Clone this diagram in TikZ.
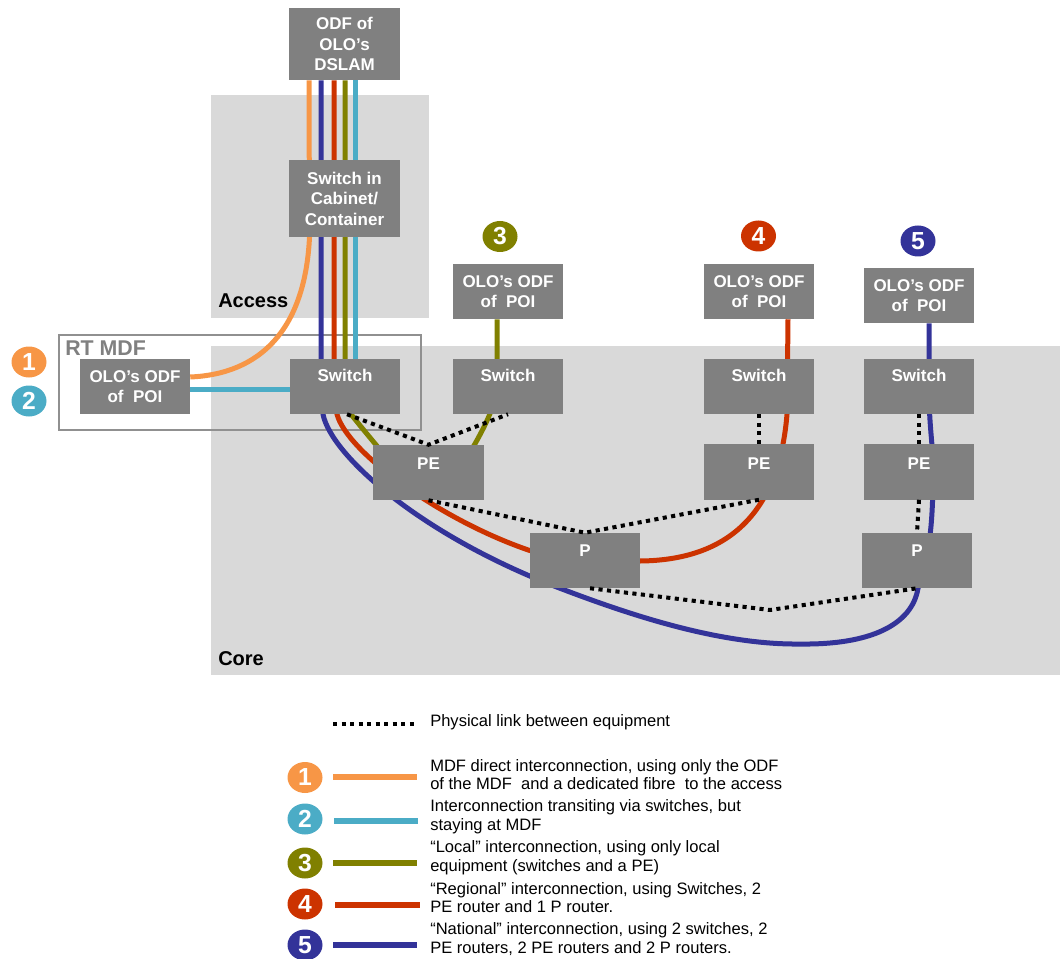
\documentclass[tikz,border=0pt]{standalone}
\usepackage{fontspec}
\setmainfont{Liberation Sans}
\usetikzlibrary{shapes.geometric,calc}
\definecolor{bgray}{HTML}{D9D9D9}
\definecolor{boxgray}{HTML}{808080}
\definecolor{corange}{HTML}{F79646}
\definecolor{ccyan}{HTML}{4BACC6}
\definecolor{colive}{HTML}{808000}
\definecolor{cred}{HTML}{CC3300}
\definecolor{cblue}{HTML}{333399}
\definecolor{mdfgray}{HTML}{909090}
\begin{document}
\begin{tikzpicture}[x=0.75pt,y=-0.75pt,
  box/.style={fill=boxgray, draw=none, minimum width=82.5pt, minimum height=41.25pt, inner sep=0pt},
  boxtxt/.style={text=white, font=\bfseries\fontsize{12.75}{15.4}\selectfont, align=center, inner sep=0pt},
  onelbl/.style={text=white, font=\bfseries\fontsize{12.75}{15.4}\selectfont, anchor=base, inner sep=0pt},
  num/.style={ellipse, minimum width=26.25pt, minimum height=23.25pt, inner sep=0pt, text=white, font=\bfseries\fontsize{18.5}{18.5}\selectfont},
  route/.style={line width=3.75pt},
  legline/.style={line width=4.2pt},
  phys/.style={line width=3pt, dash pattern=on 3.1pt off 3.3pt},
  zone/.style={font=\bfseries\fontsize{15}{18}\selectfont, anchor=base west, inner sep=0pt},
  legtxt/.style={font=\fontsize{12.4}{14}\selectfont, align=left, anchor=west, inner sep=0pt},
]
\useasboundingbox (0,0) rectangle (1060,959);
% zones
\fill[bgray] (211,95) rectangle (429,318);
\fill[bgray] (211,346) rectangle (1060,675);
\draw[mdfgray, line width=1.5pt] (59,335) rectangle (421,430);

% boxes (positions only, filled later on top of routes)
\path
  (344.5,44)    node[box, minimum height=54pt]   (dslam) {}
  (344.5,198.5) node[box, minimum height=57.75pt] (cab) {}
  (135,386.5)   node[box] (odfL) {}
  (345,386.5)   node[box] (sw1) {}
  (508,291.5)   node[box] (odf3) {}
  (508,386.5)   node[box] (sw3) {}
  (428.5,472.5) node[box] (pe1) {}
  (585,560.5)   node[box] (p1) {}
  (759,291.5)   node[box] (odf4) {}
  (759,386.5)   node[box] (sw4) {}
  (759,472)     node[box] (pe4) {}
  (919,295.5)   node[box] (odf5) {}
  (919,386.5)   node[box] (sw5) {}
  (919,472)     node[box] (pe5) {}
  (917,560.5)   node[box] (p5) {};

% routes
\coordinate (bluelow) at (800,644);
\draw[route,corange] ($(dslam.south)+(-35.5,0)$) -- ($(cab.south)+(-35,0)$)
  .. controls (305,330) and (260,374) .. ($(odfL.east)+(0,-9.5)$);
\draw[route,ccyan] ($(dslam.south)+(10.5,0)$) -- ($(sw1.north)+(10,0)$);
\draw[route,ccyan] ($(odfL.east)+(0,2.5)$) -- ($(sw1.west)+(0,2.5)$);
\draw[route,colive] ($(dslam.south)+(0.5,0)$) -- ($(sw1.north)+(0,0)$) -- ($(sw1.south)+(6,0)$)
  .. controls (362,428) .. ($(pe1.north west)+(11,10)$);
\draw[route,colive] ($(pe1.north east)+(-15,10)$) .. controls (480,435) and (495,410) ..
  ($(sw3.center)+(-11,0)$) -- ($(odf3.south)+(-11,0)$);
\draw[route,cred] ($(dslam.south)+(-10.5,0)$) -- ($(sw1.north)+(-11,0)$) -- ($(sw1.south)+(-8,0)$)
  .. controls (347,452) and (440,520) .. ($(p1.west)+(0,-10)$)
  -- ($(p1.east)+(0,0.5)$)
  .. controls (740,560) and (780,500) .. ($(sw4.south)+(28,0)$)
  -- ($(odf4.south)+(29,0)$);
\draw[route,cblue] ($(dslam.south)+(-23.5,0)$) -- ($(sw1.north)+(-24,0)$) -- ($(sw1.south)+(-22,0)$)
  .. controls (331,455) and (420,535) .. ($(p1.south)+(-25,0)$)
  .. controls (630,615) and (720,645) .. (bluelow)
  .. controls (870,645) and (912,625) .. ($(p5.south)+(1,0)$)
  .. controls (930,555) and (933,520) .. ($(pe5.center)+(14,0)$)
  .. controls (933,440) and (929,430) .. ($(sw5.center)+(10,0)$)
  -- ($(odf5.south)+(10,0)$);

% boxes on top
\foreach \n in {dslam,cab,odfL,sw1,odf3,sw3,pe1,p1,odf4,sw4,pe4,odf5,sw5,pe5,p5}
  \fill[boxgray] (\n.south west) rectangle (\n.north east);

% physical links
\coordinate (mid1) at (770,610);
\draw[phys] ($(sw1.south)+(2,0)$) -- (pe1.north) -- (sw3.south);
\draw[phys] (pe1.south) -- (p1.north) -- (pe4.south);
\draw[phys] ($(p1.south)+(5,0)$) -- (mid1) -- (p5.south);
\draw[phys] (sw4.south) -- (pe4.north);
\draw[phys] (sw5.south) -- (pe5.north);
\draw[phys] (pe5.south) -- (p5.north);

% box texts
\node[boxtxt] (tdslam) at (dslam.center) {ODF of\\OLO’s\\DSLAM};
\node[boxtxt] (tcab) at (cab.center) {Switch in\\Cabinet/\\Container};
\node[boxtxt] (todfL) at (odfL.center) {OLO’s ODF\\of~~POI};
\node[boxtxt] (todf3) at (odf3.center) {OLO’s ODF\\of~~POI};
\node[boxtxt] (todf4) at (odf4.center) {OLO’s ODF\\of~~POI};
\node[boxtxt] (todf5) at (odf5.center) {OLO’s ODF\\of~~POI};
\node[onelbl] (tsw1) at ($(sw1.north)+(0,23)$) {Switch};
\node[onelbl] (tsw3) at ($(sw3.north)+(0,23)$) {Switch};
\node[onelbl] (tsw4) at ($(sw4.north)+(0,23)$) {Switch};
\node[onelbl] (tsw5) at ($(sw5.north)+(0,23)$) {Switch};
\node[onelbl] (tpe1) at ($(pe1.north)+(0,25)$) {PE};
\node[onelbl] (tpe4) at ($(pe4.north)+(0,25)$) {PE};
\node[onelbl] (tpe5) at ($(pe5.north)+(0,25)$) {PE};
\node[onelbl] (tp1) at ($(p1.north)+(0,24)$) {P};
\node[onelbl] (tp5) at ($(p5.north)+(0,24)$) {P};

% zone labels
\node[zone] (lacc) at (218,307) {Access};
\node[zone] (lcore) at (218,665) {Core};
\node[zone, text=boxgray, font=\bfseries\fontsize{16}{18}\selectfont] (lrt) at (65,355) {RT MDF};

% numbered markers
\node[num,fill=corange] (n1) at (29,362) {1};
\node[num,fill=ccyan] (n2) at (29,401) {2};
\node[num,fill=colive] (n3) at (500,236.5) {3};
\node[num,fill=cred] (n4) at (758.5,236) {4};
\node[num,fill=cblue] (n5) at (918,241) {5};

% legend
\coordinate (lp0) at (333,724);
\coordinate (lp1) at (417,724);
\draw[phys] (lp0) -- (lp1);
\node[font=\fontsize{12.4}{14}\selectfont, anchor=base west, inner sep=0pt] (tphys) at (430,726) {Physical link between equipment};

\node[num,fill=corange] (ln1) at (305,777.5) {1};
\node[num,fill=ccyan] (ln2) at (305,819) {2};
\node[num,fill=colive] (ln3) at (305,863) {3};
\node[num,fill=cred] (ln4) at (305,904) {4};
\node[num,fill=cblue] (ln5) at (305,945) {5};
\coordinate (la1) at (333,777); \coordinate (lb1) at (417,777);
\coordinate (la2) at (334,821); \coordinate (lb2) at (418,821);
\coordinate (la3) at (333,863); \coordinate (lb3) at (417,863);
\coordinate (la4) at (335,905); \coordinate (lb4) at (420,905);
\coordinate (la5) at (333,945); \coordinate (lb5) at (417,945);
\draw[legline,corange] (la1) -- (lb1);
\draw[legline,ccyan] (la2) -- (lb2);
\draw[legline,colive] (la3) -- (lb3);
\draw[legline,cred] (la4) -- (lb4);
\draw[legline,cblue] (la5) -- (lb5);

\node[legtxt] (lt1) at (430,774.5) {MDF direct interconnection, using only the ODF\\of the MDF\ \ and a dedicated fibre\ \ to the access};
\node[legtxt] (lt2) at (430,817) {Interconnection transiting via switches, but\\staying at MDF};
\node[legtxt] (lt3) at (430,858) {“Local” interconnection, using only local\\equipment (switches and a PE)};
\node[legtxt] (lt4) at (430,897.5) {“Regional” interconnection, using Switches, 2\\PE router and 1 P router.};
\node[legtxt] (lt5) at (430,939) {“National” interconnection, using 2 switches, 2\\PE routers, 2 PE routers and 2 P routers.};
\end{tikzpicture}
\end{document}
